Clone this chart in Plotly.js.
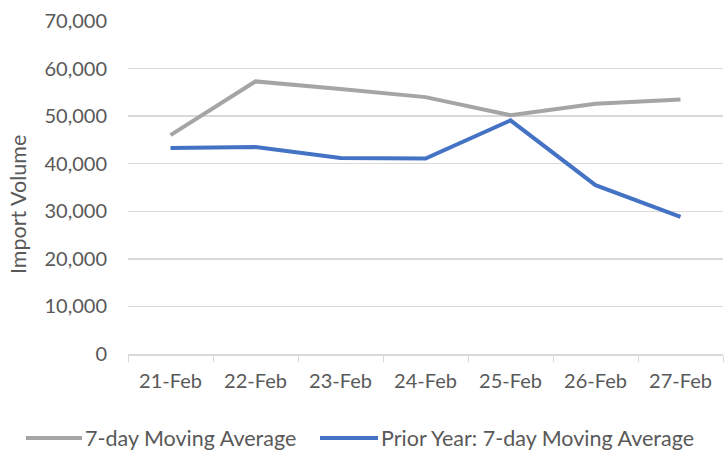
<!DOCTYPE html>
<html>
<head>
<meta charset="utf-8">
<script src="https://cdn.plot.ly/plotly-3.0.1.min.js"></script>
<style>html,body{margin:0;padding:0;background:#fff}#chart{width:726px;height:454px}</style>
</head>
<body>
<div id="chart"></div>
<script>
const categories = ["21-Feb", "22-Feb", "23-Feb", "24-Feb", "25-Feb", "26-Feb", "27-Feb"];
const movingAvg = [46000, 57300, 55700, 54000, 50200, 52600, 53500];
const priorYearAvg = [43300, 43500, 41200, 41100, 49100, 35500, 28800];
const yTickVals = [0, 10000, 20000, 30000, 40000, 50000, 60000, 70000];
const yTickText = ["0", "10,000", "20,000", "30,000", "40,000", "50,000", "60,000", "70,000"];

const font = "Lato, 'Open Sans', sans-serif";
const textColor = "#595959";
const traces = [
  {x: categories, y: movingAvg, name: "7-day Moving Average", type: "scatter", mode: "lines",
   line: {color: "#A5A5A5", width: 4}},
  {x: categories, y: priorYearAvg, name: "Prior Year: 7-day Moving Average", type: "scatter", mode: "lines",
   line: {color: "#4472C4", width: 4}}
];

// Custom legend (layout only): plot area is 595 px wide starting at 128 px, 333 px tall starting at 21 px
const plotL = 128, plotW = 595, plotT = 21, plotH = 333;
const px2x = p => (p - plotL) / plotW;
const px2y = p => 1 - (p - plotT) / plotH;
const legendY = px2y(438);
const legendItems = [
  {lineFrom: 26, lineTo: 82, textAt: 85},
  {lineFrom: 320, lineTo: 378, textAt: 381}
];
const shapes = [], annotations = [];
legendItems.forEach((it, i) => {
  shapes.push({type: "line", xref: "paper", yref: "paper", x0: px2x(it.lineFrom), x1: px2x(it.lineTo),
               y0: legendY, y1: legendY, line: {color: traces[i].line.color, width: 4}});
  annotations.push({text: traces[i].name, xref: "paper", yref: "paper", x: px2x(it.textAt), y: legendY,
                    xanchor: "left", yanchor: "middle", showarrow: false, xshift: -2,
                    font: {size: 21.5, color: textColor, family: font}});
});
annotations.push({text: "Import Volume", textangle: -90, xref: "paper", yref: "paper", x: px2x(18), y: px2y(205),
                  xanchor: "center", yanchor: "middle", showarrow: false, font: {size: 21.5, color: textColor, family: font}});

const layout = {
  width: 726, height: 454,
  margin: {l: plotL, r: 726 - plotL - plotW, t: plotT, b: 454 - plotT - plotH},
  paper_bgcolor: "#fff", plot_bgcolor: "#fff",
  font: {family: font, size: 20, color: textColor},
  showlegend: false,
  xaxis: {type: "category", range: [-0.5, 6.5], showgrid: false, showline: true, linecolor: "#D9D9D9", linewidth: 1.5,
          ticks: "outside", ticklen: 6, tickcolor: "#D9D9D9", tickson: "boundaries", zeroline: false,
          ticklabelstandoff: 8,
          tickfont: {size: 20, color: textColor}, fixedrange: true},
  yaxis: {range: [0, 70000], tickvals: yTickVals, ticktext: yTickText, showgrid: true, gridcolor: "#D9D9D9", gridwidth: 1.5,
          zeroline: false, showline: false, ticks: "", ticklabelstandoff: 20,
          tickfont: {size: 20, color: textColor}, fixedrange: true},
  shapes: shapes,
  annotations: annotations
};
Plotly.newPlot("chart", traces, layout, {displayModeBar: false, staticPlot: true});
</script>
</body>
</html>
